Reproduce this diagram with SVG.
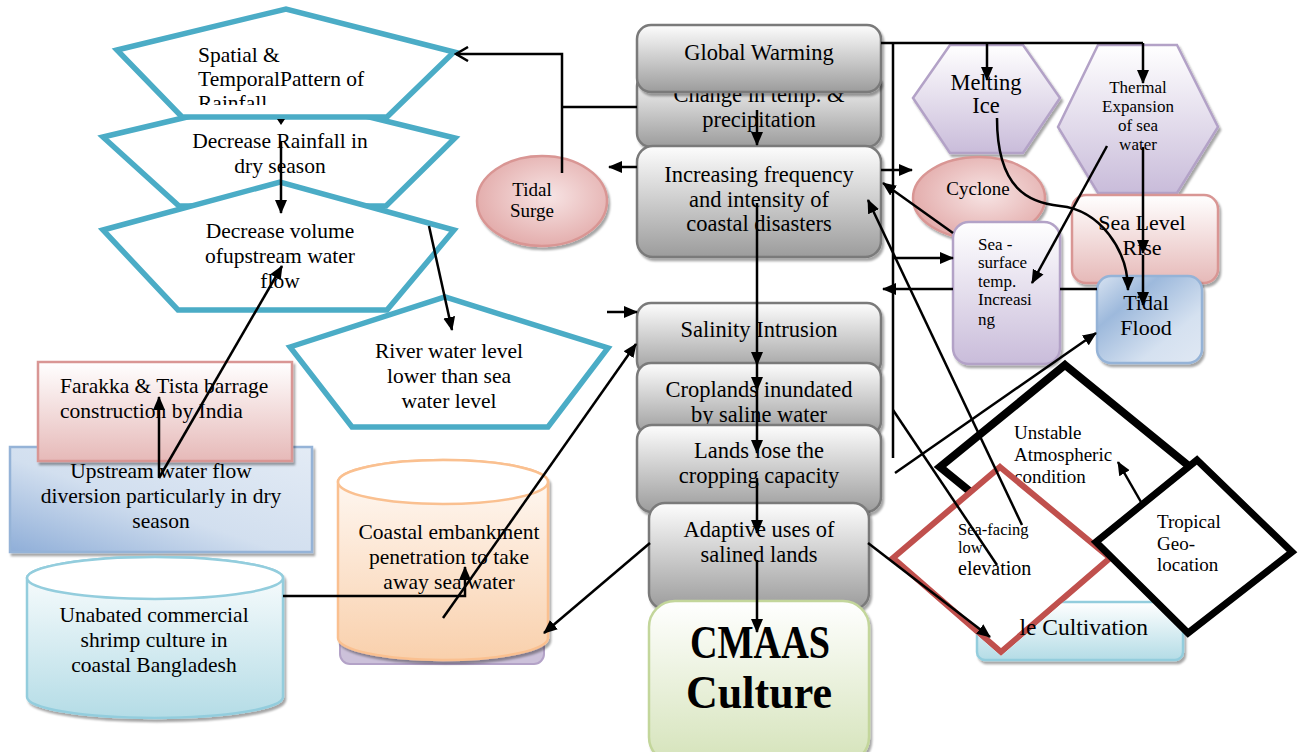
<svg xmlns="http://www.w3.org/2000/svg" width="1302" height="752" viewBox="0 0 1302 752">
  <style>
    text { font-family: "Liberation Serif", "Times New Roman", serif; fill: #000; }
    .lt { font-size: 21.5px; }
    .ct { font-size: 22.5px; }
    .s17 { font-size: 17px; }
    .s19 { font-size: 19px; }
    .s20 { font-size: 20px; }
    .s22 { font-size: 22px; }
    .mid { text-anchor: middle; }
    .pent { fill: #fff; stroke: #4BACC6; stroke-width: 5.5; stroke-linejoin: miter; }
    .grey { fill: url(#gGrey); stroke: #7a7a7a; stroke-width: 2.5; filter: url(#sh); }
    .pink { fill: url(#gPink); stroke: #D99694; stroke-width: 2.5; filter: url(#sh); }
    .pinkE { fill: url(#gPinkR); stroke: #D99694; stroke-width: 2.5; filter: url(#sh); }
    .lav { fill: url(#gLav); stroke: #B3A2C7; stroke-width: 2.5; filter: url(#sh); }
    .blue { fill: url(#gBlue); stroke: #95B3D7; stroke-width: 2.5; filter: url(#sh); }
    .aqua { fill: url(#gAqua); stroke: #93CDDD; stroke-width: 2.5; filter: url(#sh); }
    .conn { fill: none; stroke: #000; stroke-width: 2.5; }
  </style>
  <defs>
    <filter id="sh" x="-10%" y="-10%" width="125%" height="125%">
      <feDropShadow dx="2" dy="3" stdDeviation="1.2" flood-color="#000" flood-opacity="0.35"/>
    </filter>
    <linearGradient id="gGrey" x1="0" y1="0" x2="0" y2="1">
      <stop offset="0" stop-color="#fdfdfd"/>
      <stop offset="1" stop-color="#9c9c9c"/>
    </linearGradient>
    <linearGradient id="gPink" x1="0" y1="0" x2="0" y2="1">
      <stop offset="0" stop-color="#ffffff"/>
      <stop offset="1" stop-color="#E6B9B8"/>
    </linearGradient>
    <radialGradient id="gPinkR" cx="0.55" cy="0.45" r="0.6">
      <stop offset="0" stop-color="#F7E4E4"/>
      <stop offset="1" stop-color="#E2A9A8"/>
    </radialGradient>
    <linearGradient id="gLav" x1="0" y1="0" x2="0" y2="1">
      <stop offset="0" stop-color="#ffffff"/>
      <stop offset="1" stop-color="#C9BCDA"/>
    </linearGradient>
    <linearGradient id="gBlue" x1="0" y1="1" x2="1" y2="0">
      <stop offset="0" stop-color="#8FAED8"/>
      <stop offset="0.45" stop-color="#D2DFEF"/>
      <stop offset="1" stop-color="#E3EBF5"/>
    </linearGradient>
    <linearGradient id="gBlueF" x1="0" y1="0" x2="1" y2="1">
      <stop offset="0" stop-color="#D8E3F1"/>
      <stop offset="0.3" stop-color="#9DB9DC"/>
      <stop offset="0.7" stop-color="#D5E1F0"/>
      <stop offset="1" stop-color="#E0E8F3"/>
    </linearGradient>
    <linearGradient id="gAqua" x1="0" y1="0" x2="0" y2="1">
      <stop offset="0" stop-color="#ffffff"/>
      <stop offset="1" stop-color="#B4DCE6"/>
    </linearGradient>
    <linearGradient id="gOrange" x1="0" y1="0" x2="0" y2="1">
      <stop offset="0" stop-color="#FFFBF8"/>
      <stop offset="1" stop-color="#F9D0AC"/>
    </linearGradient>
    <linearGradient id="gGreen" x1="0" y1="0" x2="0" y2="1">
      <stop offset="0" stop-color="#ffffff"/>
      <stop offset="1" stop-color="#D5E3BA"/>
    </linearGradient>
    <clipPath id="clipRain">
      <rect x="185" y="30" width="210" height="75"/>
    </clipPath>
    <clipPath id="clipChange">
      <rect x="637" y="92" width="244" height="60"/>
    </clipPath>
    <!-- cultivation box area outside the sea-facing diamond -->
    <clipPath id="clipCult">
      <path clip-rule="evenodd" d="M960,590 H1200 V680 H960 Z M1000,463 L1114,558 L1001,656 L889,558 Z"/>
    </clipPath>
    <marker id="ah" markerUnits="userSpaceOnUse" markerWidth="14" markerHeight="14" viewBox="0 0 14 14" refX="13" refY="7" orient="auto">
      <path d="M0,1 L14,7 L0,13 z" fill="#000"/>
    </marker>
    <marker id="oh" markerUnits="userSpaceOnUse" markerWidth="16" markerHeight="16" viewBox="0 0 16 16" refX="14" refY="8" orient="auto">
      <path d="M2,1 L14,8 L2,15" fill="none" stroke="#000" stroke-width="2.5"/>
    </marker>
  </defs>

  <rect width="1302" height="752" fill="#fff"/>

  <!-- rainfall chain (pentagons) -->
  <g id="decrease-rainfall">
    <polygon class="pent" points="103,137 280,95 455,138 386,206 179,206"/>
    <text class="lt mid" x="280" y="148">Decrease Rainfall in</text>
    <text class="lt mid" x="280" y="173">dry season</text>
  </g>
  <g id="rainfall-pattern">
    <polygon class="pent" points="117,50 286,9 454,52 387,117 182,117"/>
    <g clip-path="url(#clipRain)">
      <text class="lt" x="198" y="62">Spatial &amp;</text>
      <text class="lt" x="198" y="86">TemporalPattern of</text>
      <text class="lt" x="198" y="110">Rainfall</text>
    </g>
  </g>
  <g id="decrease-volume">
    <polygon class="pent" points="103,230 280,182 454,230 387,310 178,310"/>
    <text class="lt mid" x="280" y="238">Decrease volume</text>
    <text class="lt mid" x="280" y="263">ofupstream water</text>
    <text class="lt mid" x="280" y="288">flow</text>
  </g>
  <g id="river-level">
    <polygon class="pent" points="290,347 445,297 608,348 548,427 352,427"/>
    <text class="lt mid" x="449" y="358">River water level</text>
    <text class="lt mid" x="449" y="383">lower than sea</text>
    <text class="lt mid" x="449" y="408">water level</text>
  </g>

  <!-- upstream causes -->
  <g id="upstream-diversion">
    <rect class="blue" x="10" y="447" width="302" height="105"/>
    <text class="lt mid" x="161" y="478">Upstream water flow</text>
    <text class="lt mid" x="161" y="503">diversion particularly in dry</text>
    <text class="lt mid" x="161" y="528">season</text>
  </g>
  <g id="farakka">
    <rect class="pink" x="38" y="362" width="254" height="99"/>
    <text class="lt" x="60" y="393">Farakka &amp; Tista barrage</text>
    <text class="lt" x="60" y="418">construction by India</text>
  </g>

  <g id="shrimp-culture">
    <path class="aqua" d="M27,578 A128,21 0 0 1 283,578 V697 A128,21 0 0 1 27,697 Z"/>
    <path d="M27,578 A128,21 0 0 1 283,578 A128,21 0 0 1 27,578 Z" fill="#fff" stroke="#93CDDD" stroke-width="2.5"/>
    <text class="lt mid" x="154" y="622">Unabated commercial</text>
    <text class="lt mid" x="154" y="647">shrimp culture in</text>
    <text class="lt mid" x="154" y="672">coastal Bangladesh</text>
  </g>

  <g id="coastal-embankment">
    <rect x="340" y="580" width="204" height="84" rx="10" fill="#CCC1DA" stroke="#B3A2C7" stroke-width="2"/>
    <path d="M338,482 A105,22 0 0 1 548,482 V638 A105,22 0 0 1 338,638 Z" fill="url(#gOrange)" stroke="#FAC090" stroke-width="2.5" filter="url(#sh)"/>
    <path d="M338,482 A105,22 0 0 1 548,482 A105,22 0 0 1 338,482 Z" fill="#fff" stroke="#FAC090" stroke-width="2.5"/>
    <text class="lt mid" x="449" y="539">Coastal embankment</text>
    <text class="lt mid" x="449" y="564">penetration to take</text>
    <text class="lt mid" x="449" y="589">away sea water</text>
  </g>

  <g id="tidal-surge">
    <ellipse class="pinkE" cx="542" cy="201" rx="65" ry="45"/>
    <text class="s19 mid" x="532" y="196">Tidal</text>
    <text class="s19 mid" x="532" y="217">Surge</text>
  </g>

  <!-- central column -->
  <g id="change-temp">
    <rect class="grey" x="637" y="72" width="244" height="75" rx="14"/>
    <g clip-path="url(#clipChange)">
      <text class="ct mid" x="759" y="102">Change in temp. &amp;</text>
    </g>
    <text class="ct mid" x="759" y="127">precipitation</text>
  </g>
  <g id="global-warming">
    <rect class="grey" x="637" y="25" width="244" height="67" rx="14"/>
    <text class="ct mid" x="759" y="60">Global Warming</text>
  </g>
  <g id="coastal-disasters">
    <rect class="grey" x="637" y="146" width="244" height="111" rx="16"/>
    <text class="ct mid" x="759" y="182">Increasing frequency</text>
    <text class="ct mid" x="759" y="207">and intensity of</text>
    <text class="ct mid" x="759" y="231">coastal disasters</text>
  </g>
  <g id="salinity">
    <rect class="grey" x="637" y="303" width="244" height="72" rx="14"/>
    <text class="ct mid" x="759" y="337">Salinity Intrusion</text>
  </g>
  <g id="croplands">
    <rect class="grey" x="637" y="363" width="244" height="72" rx="14"/>
    <text class="ct mid" x="759" y="397">Croplands inundated</text>
    <text class="ct mid" x="759" y="422">by saline water</text>
  </g>
  <g id="lands-lose">
    <rect class="grey" x="637" y="425" width="244" height="87" rx="15"/>
    <text class="ct mid" x="759" y="458">Lands lose the</text>
    <text class="ct mid" x="759" y="483">cropping capacity</text>
  </g>
  <g id="adaptive-uses">
    <rect class="grey" x="649" y="503" width="220" height="106" rx="16"/>
    <text class="ct mid" x="759" y="537">Adaptive uses of</text>
    <text class="ct mid" x="759" y="562">salined lands</text>
  </g>
  <g id="cmaas">
    <rect x="649" y="601" width="220" height="162" rx="26" fill="url(#gGreen)" stroke="#C3D69B" stroke-width="2.5" filter="url(#sh)"/>
    <text x="760" y="658" text-anchor="middle" font-size="46" font-weight="bold" textLength="140" lengthAdjust="spacingAndGlyphs">CMAAS</text>
    <text x="759" y="708" text-anchor="middle" font-size="46" font-weight="bold" textLength="146" lengthAdjust="spacingAndGlyphs">Culture</text>
  </g>

  <!-- climate side -->
  <g id="thermal-expansion">
    <polygon class="lav" points="1058,127 1098,45 1177,45 1218,127 1177,193 1098,193"/>
    <text class="s17 mid" x="1138" y="93">Thermal</text>
    <text class="s17 mid" x="1138" y="112">Expansion</text>
    <text class="s17 mid" x="1138" y="131">of sea</text>
    <text class="s17 mid" x="1138" y="150">water</text>
  </g>
  <g id="melting-ice">
    <polygon class="lav" points="913,98 950,45 1023,45 1060,98 1023,153 950,153"/>
    <text class="ct mid" x="986" y="90">Melting</text>
    <text class="ct mid" x="986" y="113">Ice</text>
  </g>
  <g id="cyclone">
    <ellipse class="pinkE" cx="979" cy="198" rx="66" ry="41"/>
    <text class="s19 mid" x="978" y="195">Cyclone</text>
  </g>
  <g id="sea-level-rise">
    <rect class="pink" x="1072" y="195" width="146" height="88" rx="14"/>
    <text class="s22 mid" x="1142" y="230">Sea Level</text>
    <text class="s22 mid" x="1142" y="255">Rise</text>
  </g>
  <g id="tidal-flood">
    <rect x="1097" y="276" width="105" height="87" rx="14" fill="url(#gBlueF)" stroke="#95B3D7" stroke-width="2.5" filter="url(#sh)"/>
    <text class="s22 mid" x="1146" y="310">Tidal</text>
    <text class="s22 mid" x="1146" y="335">Flood</text>
  </g>
  <g id="sea-surface-temp">
    <rect class="lav" x="953" y="222" width="107" height="142" rx="16"/>
    <text class="s17" x="978" y="250">Sea -</text>
    <text class="s17" x="978" y="268">surface</text>
    <text class="s17" x="978" y="287">temp.</text>
    <text class="s17" x="978" y="305">Increasi</text>
    <text class="s17" x="978" y="325">ng</text>
  </g>

  <g id="unstable-atmosphere">
    <polygon points="1065,365 1190,467 1065,569 940,467" fill="#fff" stroke="#000" stroke-width="8"/>
    <text class="s19" x="1014" y="439">Unstable</text>
    <text class="s19" x="1014" y="461">Atmospheric</text>
    <text class="s19" x="1014" y="483">condition</text>
  </g>
  <g id="sea-facing">
    <polygon points="1000,467 1110,558 1001,652 893,558" fill="#fff" stroke="#C0504D" stroke-width="6"/>
    <text x="958" y="535" font-size="16.5">Sea-facing</text>
    <text x="958" y="553" font-size="16.5">low</text>
    <text class="s20" x="958" y="575">elevation</text>
  </g>
  <g id="cultivation">
    <rect class="aqua" x="977" y="602" width="206" height="58" rx="8" clip-path="url(#clipCult)"/>
    <text x="1148" y="635" text-anchor="end" font-size="23.5">le Cultivation</text>
  </g>
  <g id="tropical">
    <polygon points="1197,460 1292,552 1188,633 1096,542" fill="#fff" stroke="#000" stroke-width="7"/>
    <text class="s19" x="1157" y="528">Tropical</text>
    <text class="s19" x="1157" y="550">Geo-</text>
    <text class="s19" x="1157" y="571">location</text>
  </g>

  <!-- connectors -->
  <g id="connectors" class="conn">
    <path d="M881,43 H1143"/>
    <path d="M893,43 V458"/>
    <path d="M987,43 V80" marker-end="url(#ah)"/>
    <path d="M1143,43 V83" marker-end="url(#ah)"/>
    <path d="M881,170 H912" marker-end="url(#ah)"/>
    <path d="M893,258 H953" marker-end="url(#ah)"/>
    <path d="M1097,289 H1060 M953,289 H883" marker-end="url(#ah)"/>
    <path d="M953,233 L883,183" marker-end="url(#ah)"/>
    <path d="M1022,525 L868,200" marker-end="url(#ah)"/>
    <path d="M893,410 L997,565"/>
    <path d="M895,473 L1096,333" marker-end="url(#ah)"/>
    <path d="M1141,502 L1118,462" marker-end="url(#ah)"/>
    <path d="M997,118 C997,190 1030,203 1060,206 C1100,210 1128,250 1128,290" marker-end="url(#ah)"/>
    <path d="M1107,146 L1032,283" marker-end="url(#ah)"/>
    <path d="M1143,147 V253" marker-end="url(#ah)"/>
    <path d="M1143,255 V305" marker-end="url(#ah)"/>
    <path d="M757,110 V145" marker-end="url(#ah)"/>
    <path d="M757,203 V365" marker-end="url(#ah)"/>
    <path d="M757,365 V390" marker-end="url(#ah)"/>
    <path d="M757,380 V453" marker-end="url(#ah)"/>
    <path d="M757,478 V533" marker-end="url(#ah)"/>
    <path d="M757,560 V632" marker-end="url(#ah)"/>
    <path d="M637,167 H609" marker-end="url(#ah)"/>
    <path d="M562,173 V54 H456" marker-end="url(#oh)"/>
    <path d="M562,107 H637"/>
    <path d="M607,312 H637" marker-end="url(#ah)"/>
    <path d="M443,618 L636,344" marker-end="url(#ah)"/>
    <path d="M650,543 L544,633" marker-end="url(#ah)"/>
    <path d="M868,543 L990,637" marker-end="url(#ah)"/>
    <path d="M283,596 H465 V567" marker-end="url(#ah)"/>
    <path d="M159,478 V397" marker-end="url(#ah)"/>
    <path d="M159,478 L282,266" marker-end="url(#ah)"/>
    <path d="M281,141 V213" marker-end="url(#ah)"/>
    <polygon points="277,119 285,119 281,125" fill="#000" stroke="none"/>
    <path d="M429,226 L452,330" marker-end="url(#ah)"/>
  </g>
</svg>
